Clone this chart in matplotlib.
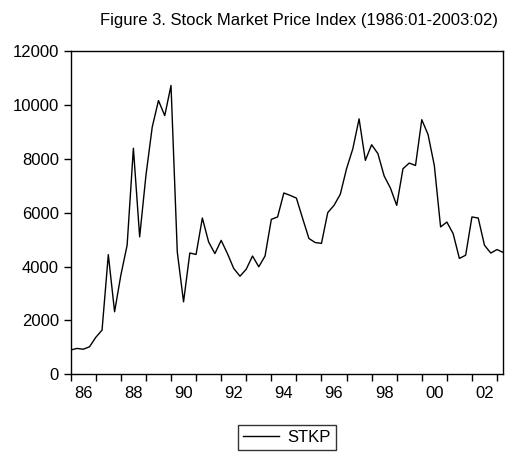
import matplotlib
matplotlib.use('Agg')
import matplotlib.pyplot as plt
import numpy as np

# quarterly stock price index, 1986Q1 .. 2003Q2
stkp = [900, 960, 930, 1020, 1370, 1640, 4440, 2320,
        3680, 4790, 8390, 5100, 7380, 9170, 10160, 9600,
        10720, 4540, 2690, 4500, 4450, 5800, 4910, 4480,
        4970, 4480, 3930, 3640, 3900, 4390, 3990, 4390,
        5750, 5840, 6730, 6640, 6540, 5780, 5040, 4890,
        4860, 6000, 6270, 6680, 7630, 8370, 9480, 7940,
        8520, 8190, 7360, 6910, 6270, 7630, 7840, 7750,
        9450, 8900, 7750, 5470, 5650, 5220, 4300, 4420,
        5840, 5800, 4790, 4500, 4630, 4520]
year_labels = ['86', '88', '90', '92', '94', '96', '98', '00', '02']
y_ticks = [0, 2000, 4000, 6000, 8000, 10000, 12000]

plt.rcParams['font.family'] = ['Liberation Sans', 'DejaVu Sans']

fig = plt.figure(figsize=(5.05, 4.54), dpi=100)
ax = fig.add_axes([0.14, 0.1756, 0.8566, 0.7121])

q = np.arange(len(stkp))
ax.plot(q, stkp, color='black', linewidth=1.0, label='STKP')

ax.set_xlim(0, len(stkp) - 1)
ax.set_ylim(0, 12000)
ax.set_yticks(y_ticks)
ax.set_yticklabels([str(v) for v in y_ticks], fontsize=12)
# a tick at every year, labels every second year centred in the year
ax.set_xticks(np.arange(0, len(stkp), 4))
ax.set_xticklabels([])
ax.set_xticks(np.arange(2, len(stkp), 8), minor=True)
ax.set_xticklabels(year_labels, minor=True, fontsize=12)
ax.tick_params(which='major', direction='out', length=5, width=1, color='black')
ax.tick_params(axis='x', which='minor', length=0, pad=8.5)
for s in ax.spines.values():
    s.set_linewidth(1.0)

fig.text(0.592, 0.955, 'Figure 3. Stock Market Price Index (1986:01-2003:02)',
         ha='center', va='center', fontsize=12)

fig.legend(loc='center', bbox_to_anchor=(0.568, 0.037), fontsize=12,
           frameon=True, fancybox=False, edgecolor='black',
           handlelength=2.2, handletextpad=0.5, borderpad=0.3)

fig.savefig('out.png', dpi=100)
